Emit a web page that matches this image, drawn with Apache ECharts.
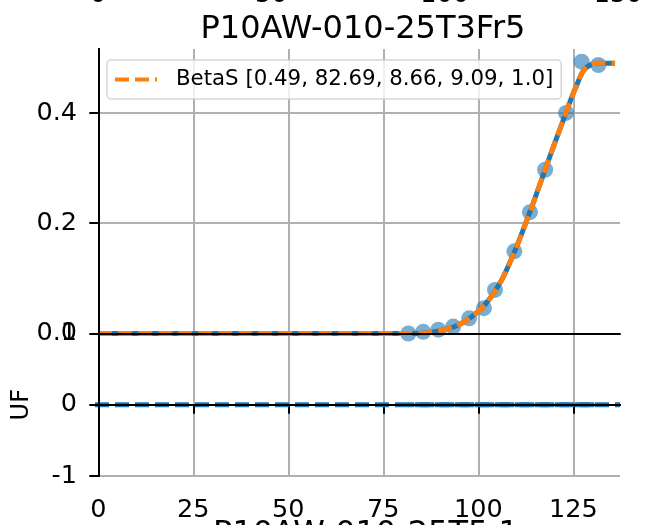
<!DOCTYPE html>
<html>
<head>
<meta charset="utf-8">
<script src="https://cdn.jsdelivr.net/npm/echarts@6/dist/echarts.min.js"></script>
<style>
  html, body { margin: 0; padding: 0; background: #fff; }
  #chart { width: 647px; height: 525px; }
</style>
</head>
<body>
<div id="chart"></div>
<script>
// measured points (top panel)
const pointX = [81.6, 85.5, 89.5, 93.4, 97.6, 101.5, 104.4, 109.5, 113.6, 117.6, 123.1, 127.2, 131.6];
const pointY = [0.0, 0.003, 0.007, 0.0125, 0.0276, 0.046, 0.079, 0.149, 0.220, 0.297, 0.400, 0.493, 0.487];
// fitted curve
const fitX = [0, 20, 40, 60, 80, 82.7, 86, 90, 94, 98, 102, 106, 110, 114, 118, 120, 122, 124, 126, 127.6, 129.4, 131, 133, 136];
const fitY = [0, 0, 0, 0, 0, 0, 0.001, 0.005, 0.013, 0.029, 0.054, 0.095, 0.156, 0.228, 0.305, 0.343, 0.380, 0.418, 0.452, 0.476, 0.487, 0.49, 0.49, 0.49];
const fitParams = ['0.49', '82.69', '8.66', '9.09', '1.0'];
// residuals (bottom panel)
const residY = [0, 0, 0, 0, 0, 0, 0, 0, 0, 0, 0, 0, 0];

const xTicks = [0, 25, 50, 75, 100, 125];
const yTicksTop = [0, 0.2, 0.4];
const yTicksUF = [-1, 0, 1];
const prevTicks = [0, 50, 100, 150];   // tick labels of the panel above (cut off)

const X_MIN = -0.87, X_MAX = 137.3;
const FONT = 'DejaVu Sans';
const BLUE = '#1f77b4', ORANGE = '#ff7f0e', GRID = '#b0b0b0';

const fitName = 'BetaS [' + fitParams.join(', ') + ']';

const chart = echarts.init(document.getElementById('chart'));

const lbl = { color: '#000', fontSize: 25.5, fontFamily: FONT };
const tick = { length: 9, lineStyle: { color: '#000', width: 2 } };
const spine = { show: true, lineStyle: { color: '#000', width: 2 } };

// axis that only draws a frame edge
function frameX(gridIndex, position) {
  return { type: 'value', gridIndex, position, min: X_MIN, max: X_MAX, z: 5,
    axisLine: spine, axisTick: { show: false }, axisLabel: { show: false }, splitLine: { show: false } };
}
function frameY(gridIndex, min, max) {
  return { type: 'value', gridIndex, position: 'right', min, max, z: 5,
    axisLine: spine, axisTick: { show: false }, axisLabel: { show: false }, splitLine: { show: false } };
}

const option = {
  animation: false,
  title: [
    { text: 'P10AW-010-25T3Fr5', left: 358, top: 9, textAlign: 'center',
      textStyle: { fontSize: 32, fontWeight: 'normal', color: '#000', fontFamily: FONT } },
    { text: 'P10AW-010-25T5.1', left: 361, top: 514, textAlign: 'center',
      textStyle: { fontSize: 32, fontWeight: 'normal', color: '#000', fontFamily: FONT } }
  ],
  legend: {
    data: [fitName],
    left: 107, top: 60,
    padding: [9, 8, 9, 6],
    itemWidth: 42, itemHeight: 14,
    itemStyle: { opacity: 0 },
    lineStyle: { width: 4, type: [14, 6], color: ORANGE },
    backgroundColor: 'rgba(255,255,255,0.8)',
    borderColor: 'rgba(204,204,204,0.8)', borderWidth: 1.5, borderRadius: 4,
    textStyle: { fontSize: 21.3, color: '#000', fontFamily: FONT, padding: [0, 0, 0, 14] }
  },
  grid: [
    { left: 95, right: 27, top: 49, height: 284.5 },
    { left: 95, right: 27, top: 333.5, height: 142.5 },
    { left: 98, right: 29, top: -72, height: 40 }
  ],
  xAxis: [
    { type: 'value', gridIndex: 0, min: X_MIN, max: X_MAX,
      axisLine: { show: false }, axisTick: { show: false, customValues: xTicks },
      axisLabel: { show: false }, splitLine: { show: true, lineStyle: { color: GRID, width: 2 } } },
    frameX(0, 'top'),
    { type: 'value', gridIndex: 1, min: X_MIN, max: X_MAX,
      axisLine: spine, axisTick: Object.assign({ customValues: xTicks }, tick),
      axisLabel: Object.assign({ customValues: xTicks, margin: 21 }, lbl),
      splitLine: { show: true, lineStyle: { color: GRID, width: 2 } } },
    frameX(1, 'top'),
    { type: 'value', gridIndex: 2, min: 0, max: 150,
      axisLine: { show: false }, axisTick: { show: false, customValues: prevTicks },
      axisLabel: Object.assign({ customValues: prevTicks, margin: 4 }, lbl),
      splitLine: { show: false } }
  ],
  yAxis: [
    { type: 'value', gridIndex: 0, min: 0, max: 0.516,
      axisLine: spine, axisTick: Object.assign({ customValues: yTicksTop }, tick),
      axisLabel: Object.assign({ customValues: yTicksTop, margin: 18, formatter: v => v.toFixed(1) }, lbl),
      splitLine: { show: true, lineStyle: { color: GRID, width: 2 } } },
    frameY(0, 0, 0.516),
    { type: 'value', gridIndex: 1, min: -1, max: 1,
      name: 'UF', nameLocation: 'middle', nameGap: 61,
      nameTextStyle: { fontSize: 24, color: '#000', fontFamily: FONT },
      axisLine: spine, axisTick: Object.assign({ customValues: yTicksUF }, tick),
      axisLabel: Object.assign({ customValues: yTicksUF, margin: 18 }, lbl),
      splitLine: { show: true, lineStyle: { color: GRID, width: 2 } } },
    frameY(1, -1, 1),
    { type: 'value', gridIndex: 2, show: false }
  ],
  series: [
    { type: 'scatter', xAxisIndex: 0, yAxisIndex: 0, symbolSize: 16,
      itemStyle: { color: BLUE, opacity: 0.6 },
      data: pointX.map((x, i) => [x, pointY[i]]) },
    { type: 'line', name: 'fit', xAxisIndex: 0, yAxisIndex: 0, symbol: 'none', smooth: 0.3,
      lineStyle: { color: BLUE, width: 5 },
      data: fitX.map((x, i) => [x, fitY[i]]) },
    { type: 'line', name: fitName, xAxisIndex: 0, yAxisIndex: 0, symbol: 'none', smooth: 0.3,
      itemStyle: { color: ORANGE },
      lineStyle: { color: ORANGE, width: 5, type: [14, 6] },
      data: fitX.map((x, i) => [x, fitY[i]]) },
    { type: 'line', xAxisIndex: 2, yAxisIndex: 2, symbol: 'none',
      lineStyle: { color: BLUE, width: 5, type: [14, 6] },
      data: [[X_MIN, 0], [X_MAX, 0]] },
    { type: 'line', xAxisIndex: 2, yAxisIndex: 2, symbol: 'none',
      lineStyle: { color: BLUE, width: 5, type: [14, 6], dashOffset: 8 },
      data: pointX.map((x, i) => [x, residY[i]]) }
  ]
};

chart.setOption(option);
</script>
</body>
</html>
